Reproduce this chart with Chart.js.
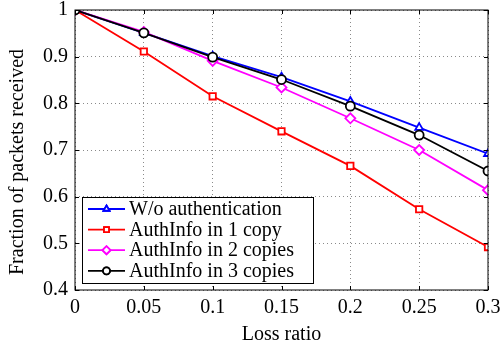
<!DOCTYPE html>
<html>
<head>
<meta charset="utf-8">
<script src="https://cdn.jsdelivr.net/npm/chart.js@4"></script>
<style>
  html, body { margin: 0; padding: 0; background: #fff; }
  #wrap { width: 500px; height: 347px; }
</style>
</head>
<body>
<div id="wrap"><canvas id="chart" width="500" height="347"></canvas></div>
<script>
// Fraction of packets received vs loss ratio

const lossRatio = [0, 0.05, 0.1, 0.15, 0.2, 0.25, 0.3];

const noAuth   = [1, 0.951, 0.901, 0.856, 0.804, 0.748, 0.692];
const oneCopy  = [1, 0.911, 0.815, 0.740, 0.666, 0.573, 0.492];
const twoCopy  = [1, 0.953, 0.891, 0.834, 0.768, 0.700, 0.614];
const threeCopy = [1, 0.951, 0.899, 0.851, 0.794, 0.732, 0.655];

const seriesNames = [
  "W/o authentication",
  "AuthInfo in 1 copy",
  "AuthInfo in 2 copies",
  "AuthInfo in 3 copies"
];

const xTicks = [0, 0.05, 0.1, 0.15, 0.2, 0.25, 0.3];
const yTicks = [0.4, 0.5, 0.6, 0.7, 0.8, 0.9, 1];
const yTitle = "Fraction of packets received";

const FONT = "'Liberation Serif', 'Times New Roman', serif";

const styles = [
  { color: "#0000ff", point: "triangle", order: 4 },
  { color: "#ff0000", point: "rect",     order: 3 },
  { color: "#ff00ff", point: "rectRot",  order: 2 },
  { color: "#000000", point: "circle",   order: 1 }
];

function mkSet(i, vals) {
  const s = styles[i];
  return {
    label: seriesNames[i],
    data: lossRatio.map((x, k) => ({ x: x, y: vals[k] })),
    borderColor: s.color,
    backgroundColor: "#ffffff",
    borderWidth: 1.8,
    pointStyle: s.point,
    pointRadius: s.point === "rectRot" ? 5 : 4.5,
    pointBorderWidth: 1.8,
    pointBackgroundColor: "#ffffff",
    pointBorderColor: s.color,
    tension: 0,
    order: s.order
  };
}

// box around plot area + inward ticks (MATLAB style), plus the y title
const frame = {
  id: "frame",
  afterDatasetsDraw(chart) {
    const { ctx, chartArea: a, scales } = chart;
    ctx.save();
    ctx.strokeStyle = "#000";
    ctx.lineWidth = 1;
    ctx.strokeRect(a.left, a.top, a.right - a.left, a.bottom - a.top);
    ctx.beginPath();
    xTicks.forEach(v => {
      const px = Math.round(scales.x.getPixelForValue(v)) + 0.5;
      ctx.moveTo(px, a.bottom); ctx.lineTo(px, a.bottom - 4);
      ctx.moveTo(px, a.top);    ctx.lineTo(px, a.top + 4);
    });
    yTicks.forEach(v => {
      const py = Math.round(scales.y.getPixelForValue(v)) + 0.5;
      ctx.moveTo(a.left, py);  ctx.lineTo(a.left + 4, py);
      ctx.moveTo(a.right, py); ctx.lineTo(a.right - 4, py);
    });
    ctx.stroke();

    ctx.translate(18, 162);
    ctx.rotate(-Math.PI / 2);
    ctx.font = "20px " + FONT;
    ctx.fillStyle = "#000";
    ctx.textAlign = "center";
    ctx.textBaseline = "middle";
    ctx.fillText(yTitle, 0, 0);
    ctx.restore();
  }
};

// legend box inside the plot, lower left
const boxLegend = {
  id: "boxLegend",
  afterDraw(chart) {
    const { ctx } = chart;
    const x0 = 82, y0 = 197, w = 231, h = 86;
    ctx.save();
    ctx.fillStyle = "#fff";
    ctx.fillRect(x0, y0, w, h);
    ctx.strokeStyle = "#000";
    ctx.lineWidth = 1;
    ctx.strokeRect(x0 + 0.5, y0 + 0.5, w, h);
    ctx.font = "20px " + FONT;
    ctx.textBaseline = "middle";
    chart.data.datasets.forEach((ds, i) => {
      const yy = y0 + 12 + i * 20.6;
      ctx.strokeStyle = ds.borderColor;
      ctx.lineWidth = 1.8;
      ctx.beginPath();
      ctx.moveTo(88, yy); ctx.lineTo(125, yy);
      ctx.stroke();
      Chart.helpers.drawPoint(ctx, {
        pointStyle: ds.pointStyle,
        radius: ds.pointStyle === "rectRot" ? 4 : 3.5,
        borderWidth: 1.5
      }, 106.5, yy);
      ctx.fillStyle = "#fff";
      ctx.fill();
      ctx.stroke();
      ctx.fillStyle = "#000";
      ctx.fillText(ds.label, 129, yy + 1);
    });
    ctx.restore();
  }
};

const fmt = v => String(Math.round(v * 100) / 100);

new Chart(document.getElementById("chart"), {
  type: "line",
  data: {
    datasets: [
      mkSet(0, noAuth),
      mkSet(1, oneCopy),
      mkSet(2, twoCopy),
      mkSet(3, threeCopy)
    ]
  },
  options: {
    responsive: false,
    animation: false,
    layout: { padding: { left: 0, right: 12, top: 10, bottom: 0 } },
    plugins: { legend: { display: false }, tooltip: { enabled: false } },
    scales: {
      x: {
        type: "linear",
        min: 0, max: 0.3,
        afterBuildTicks: s => { s.ticks = xTicks.map(v => ({ value: v })); },
        afterFit: s => {
          s.height = 57;
          s.paddingLeft = 0; s.paddingRight = 0;
        },
        grid: { color: "#8a8a8a", lineWidth: 1, drawTicks: false },
        border: { display: false, dash: [1, 3] },
        ticks: {
          padding: 6, color: "#000", maxRotation: 0,
          font: { family: FONT, size: 20 },
          callback: v => fmt(v)
        },
        title: {
          display: true, text: "Loss ratio", color: "#000",
          font: { family: FONT, size: 20 }, padding: { top: 4, bottom: 0 }
        }
      },
      y: {
        min: 0.4, max: 1,
        afterBuildTicks: s => { s.ticks = yTicks.map(v => ({ value: v })); },
        afterFit: s => {
          s.width = 75;
          s.paddingTop = 0; s.paddingBottom = 0;
        },
        grid: { color: "#8a8a8a", lineWidth: 1, drawTicks: false },
        border: { display: false, dash: [1, 3] },
        ticks: {
          padding: 7, color: "#000",
          font: { family: FONT, size: 20 },
          callback: v => fmt(v)
        }
      }
    }
  },
  plugins: [frame, boxLegend]
});
</script>
</body>
</html>
